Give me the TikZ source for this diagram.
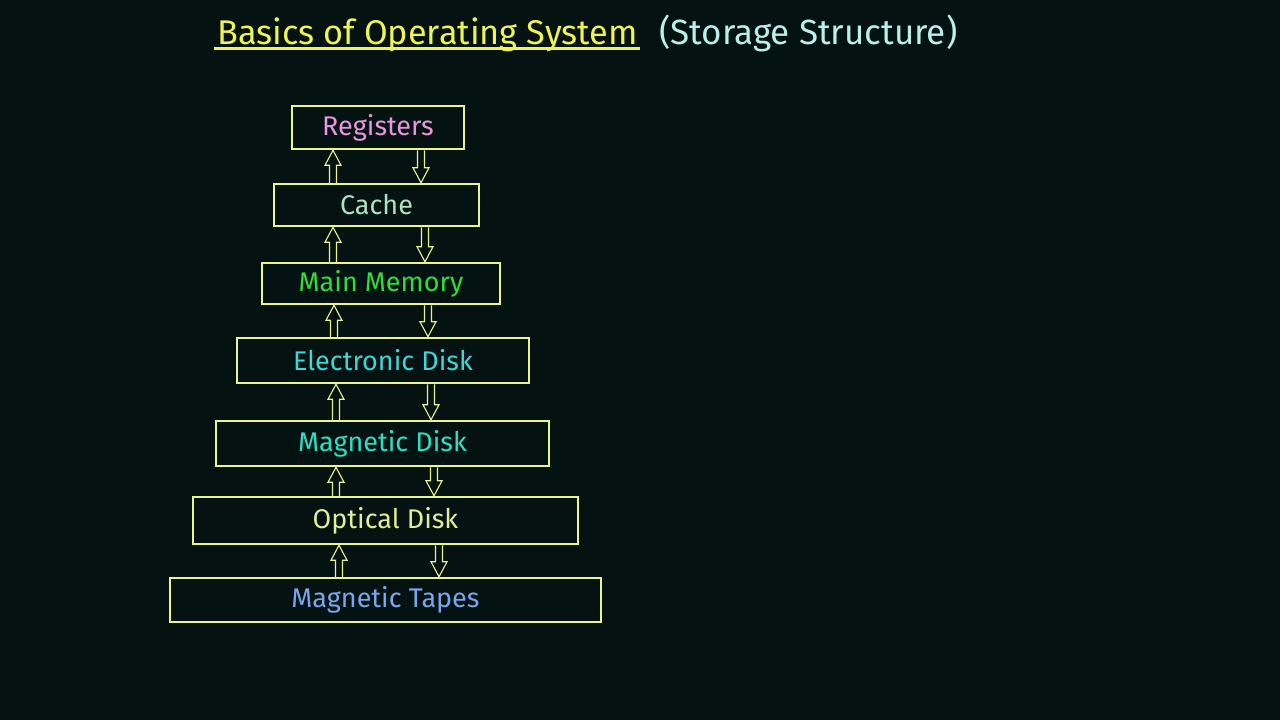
\documentclass[tikz,border=0pt]{standalone}
\usepackage{fontspec}
\setmainfont{Fira Sans}
\usetikzlibrary{calc}

\definecolor{board}{RGB}{4,19,17}
\definecolor{boxline}{RGB}{236,244,140}
\definecolor{titleyellow}{RGB}{240,244,80}
\definecolor{subcyan}{RGB}{186,240,236}
\definecolor{regpink}{RGB}{232,150,224}
\definecolor{cachegreen}{RGB}{170,228,196}
\definecolor{maingreen}{RGB}{46,222,60}
\definecolor{ecyan}{RGB}{62,214,214}
\definecolor{mteal}{RGB}{46,222,196}
\definecolor{optyellow}{RGB}{226,238,150}
\definecolor{tapeblue}{RGB}{122,166,240}

\tikzset{
  level/.style={draw=boxline, line width=2.5pt, inner sep=0pt,
    font=\fontsize{27}{31}\selectfont},
  hollow/.style={draw=boxline, line width=1.1pt, line join=miter}
}

% hollow arrow from #1 to #2
\newcommand{\hollowarrow}[2]{%
  \coordinate (s) at (#1);
  \coordinate (t) at (#2);
  \coordinate (h) at ($(t)!15pt!(s)$);
  \draw[hollow] ($(s)!3.5pt!90:(t)$) -- ($(h)!3.5pt!90:(t)$) -- ($(h)!8pt!90:(t)$)
    -- (t) -- ($(h)!8pt!-90:(t)$) -- ($(h)!3.5pt!-90:(t)$) -- ($(s)!3.5pt!-90:(t)$);
}

\begin{document}
\begin{tikzpicture}[x=1pt,y=-1pt]
  \fill[board] (0,0) rectangle (1280,720);
  \useasboundingbox (0,0) rectangle (1280,720);

  % title
  \node[anchor=base west, inner sep=0pt, text=titleyellow,
    font=\fontsize{34.3}{39}\selectfont] (title) at (217,44) {Basics of Operating System};
  \draw[titleyellow, line width=3pt] ($(title.base west)+(-3,4)$) -- ($(title.base east)+(2,4)$);
  \node[anchor=base west, inner sep=0pt, text=subcyan,
    font=\fontsize{35}{40}\selectfont] (sub) at (659,44) {(Storage Structure)};

  % hierarchy
  \node[level, minimum width=172, minimum height=43, text=regpink] (reg) at (378,127.5) {Registers};
  \node[level, minimum width=205, minimum height=42, text=cachegreen] (cache) at (376.5,205) {Cache};
  \node[level, minimum width=238, minimum height=41, text=maingreen] (main) at (381,283.5) {Main Memory};
  \node[level, minimum width=292, minimum height=45, text=ecyan] (edisk) at (383,360.5) {Electronic Disk};
  \node[level, minimum width=333, minimum height=45, text=mteal] (mdisk) at (382.5,443.5) {Magnetic Disk};
  \node[level, minimum width=385, minimum height=47, text=optyellow] (odisk) at (385.5,520.5) {Optical Disk};
  \node[level, minimum width=431, minimum height=44, text=tapeblue] (tapes) at (385.5,600) {Magnetic Tapes};

  % up and down arrows
  \foreach \lo/\hi/\ux/\dx in {cache/reg/333/421, main/cache/333/425, edisk/main/334/428,
      mdisk/edisk/336/431, odisk/mdisk/336/434, tapes/odisk/339/439} {
    \coordinate (u) at (\ux,0);
    \coordinate (d) at (\dx,0);
    \hollowarrow{\lo.north -| u}{\hi.south -| u}
    \hollowarrow{\hi.south -| d}{\lo.north -| d}
  }
\end{tikzpicture}
\end{document}
